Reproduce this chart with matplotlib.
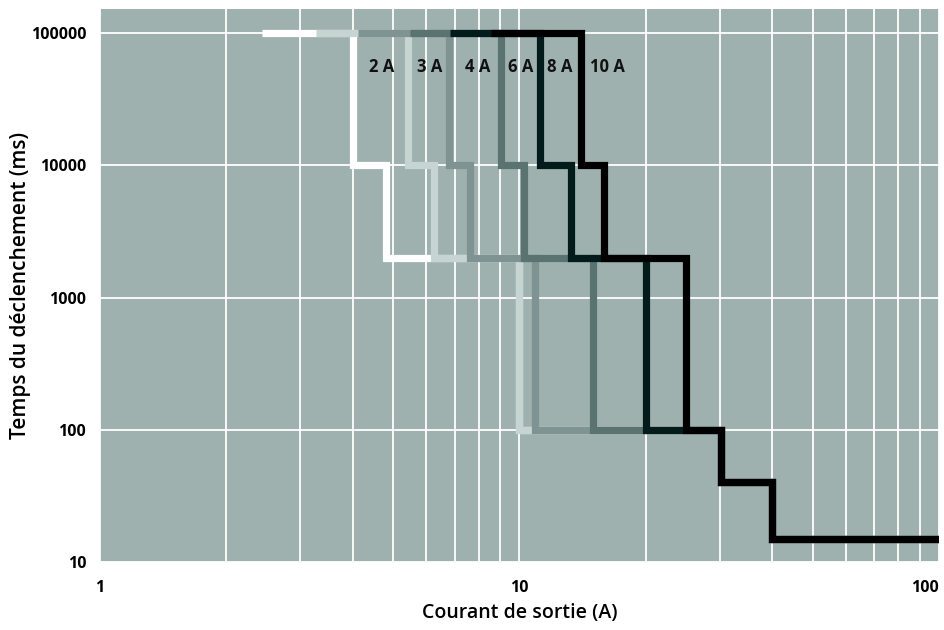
import matplotlib
matplotlib.use("Agg")
import matplotlib.pyplot as plt
from matplotlib.ticker import FixedLocator, NullFormatter, LogLocator

# rated currents of the outputs
ratings = ["2 A", "3 A", "4 A", "6 A", "8 A", "10 A"]

# current (A) where each curve steps down; common tail for all curves
currents_2a = [2.43, 4.0, 4.8, 10.0, 30.3, 40.0, 100.0]
currents_3a = [3.28, 5.41, 6.27, 10.0, 30.3, 40.0, 100.0]
currents_4a = [4.11, 6.78, 7.6, 10.9, 30.3, 40.0, 100.0]
currents_6a = [5.47, 9.01, 10.27, 15.0, 30.3, 40.0, 100.0]
currents_8a = [6.82, 11.2, 13.3, 20.0, 30.3, 40.0, 100.0]
currents_10a = [8.53, 14.05, 15.9, 25.0, 30.3, 40.0, 100.0]

# trip time levels (ms)
trip_times = [100000, 10000, 2000, 100, 40, 15, 15]

colors = ["#ffffff", "#c6d4d2", "#7f9392", "#5a7371", "#031b1b", "#000000"]
curves = [currents_2a, currents_3a, currents_4a, currents_6a, currents_8a, currents_10a]

fig = plt.figure(figsize=(9.45, 6.3), dpi=100)
ax = fig.add_axes([100 / 945, 1 - 562 / 630, 839 / 945, 553 / 630])
ax.set_facecolor("#9eb1af")

for cur, col in zip(curves, colors):
    ax.step(cur, trip_times, where="post", color=col, lw=5.2,
            solid_capstyle="butt", solid_joinstyle="miter")

ax.set_xscale("log")
ax.set_yscale("log")
ax.set_xlim(1, 100)
ax.set_ylim(10, 152000)

ax.xaxis.set_major_locator(FixedLocator([1, 10, 100]))
ax.xaxis.set_minor_locator(LogLocator(base=10, subs=range(2, 10)))
ax.xaxis.set_minor_formatter(NullFormatter())
ax.yaxis.set_major_locator(FixedLocator([10, 100, 1000, 10000, 100000]))
ax.yaxis.set_minor_locator(FixedLocator([]))

ax.set_xticklabels(["1", "10", "100"])
ax.set_yticklabels(["10", "100", "1000", "10000", "100000"])
ax.get_xticklabels()[-1].set_ha("right")

ax.grid(True, which="major", axis="both", color="white", lw=1.3)
ax.grid(True, which="minor", axis="x", color="white", lw=1.3)
ax.set_axisbelow(True)

for s in ax.spines.values():
    s.set_visible(False)
ax.tick_params(which="both", length=0)
ax.tick_params(axis="x", pad=13)
ax.tick_params(axis="y", pad=10)
for lab in ax.get_xticklabels() + ax.get_yticklabels():
    lab.set_fontfamily("Open Sans")
    lab.set_fontweight("bold")
    lab.set_fontsize(11.5)

label_x = [4.69, 6.1, 7.94, 10.05, 12.5, 16.2]
for name, lx in zip(ratings, label_x):
    ax.text(lx, 55000, name, ha="center", va="center", fontsize=12,
            fontweight="bold", family="Open Sans", color="#111111")

ax.set_xlabel("Courant de sortie (A)", fontsize=14, family="Open Sans",
              fontweight="semibold", labelpad=5)
ax.set_ylabel("Temps du déclenchement (ms)", fontsize=15, family="Open Sans",
              fontweight="semibold", labelpad=0)

fig.savefig("out.png", dpi=100)
